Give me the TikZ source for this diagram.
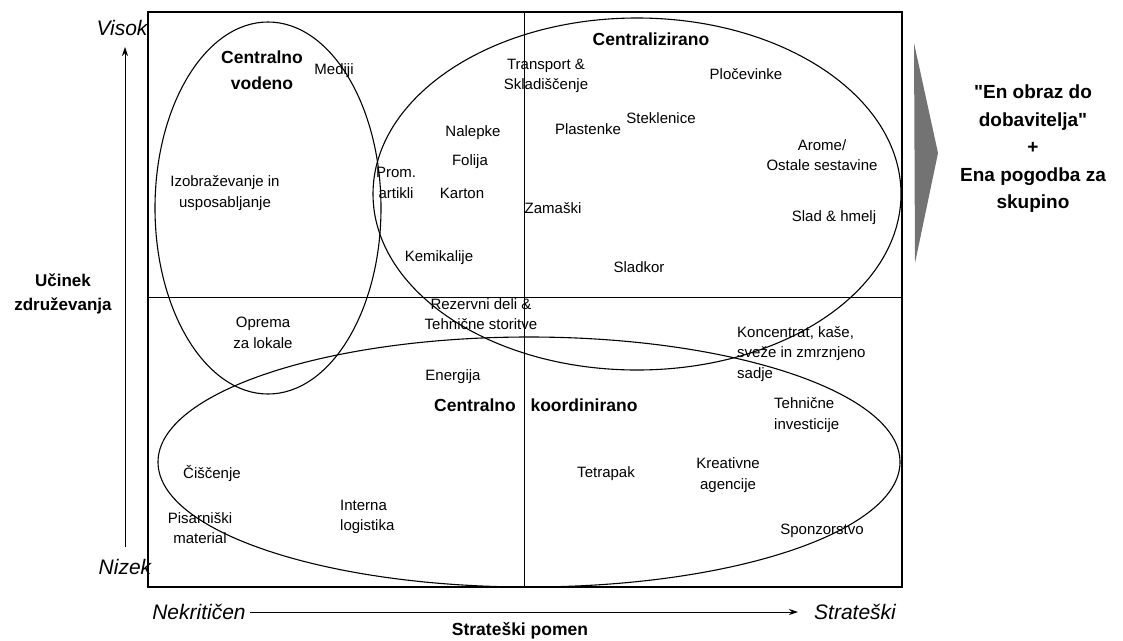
\documentclass[tikz,border=0pt]{standalone}
\usepackage{fontspec}
\setmainfont{Liberation Sans}[Ligatures=TeXOff]
\usetikzlibrary{arrows.meta}
\begin{document}
\begin{tikzpicture}[x=1pt,y=-1pt,
  lbl/.style={font=\fontsize{15}{20.5}\selectfont, align=center, inner sep=0pt},
  lbll/.style={lbl, align=left, anchor=west},
  bld/.style={font=\bfseries\fontsize{17.5}{26}\selectfont, align=center, inner sep=0pt},
  axl/.style={font=\itshape\fontsize{21}{24}\selectfont, inner sep=0pt},
  ell/.style={draw=black, line width=1.1pt},
  frame/.style={draw=black, line width=1.3pt},
  axis/.style={draw=black, line width=0.9pt, -{Stealth[length=9pt,width=6pt]}}]
\useasboundingbox (0,0) rectangle (1123,640);
% frame and quadrants
\draw[frame] (148,12) rectangle (902,587);
\draw[line width=1pt] (148,297) -- (902,297);
\draw[line width=1pt] (524,12) -- (524,587);
% ellipses
\draw[ell] (268,208) ellipse [x radius=113, y radius=186];
\draw[ell] (637,194) ellipse [x radius=264, y radius=176];
\draw[ell] (529,462) ellipse [x radius=371, y radius=125];
% axes
\coordinate (ya) at (125,547);
\coordinate (yb) at (125,47);
\draw[axis] (ya) -- (yb);
\node[axl] (visok) at (122,28) {Visok};
\node[axl] (nizek) at (125,567) {Nizek};
\node[axl] (nek) at (199,612) {Nekritičen};
\node[axl] (strat) at (855,612) {Strateški};
\coordinate (xa) at (250,612);
\coordinate (xb) at (798,612);
\draw[axis] (xa) -- (xb);
\node[bld] (pomen) at (520,631) {Strateški pomen};
\node[bld, font=\bfseries\fontsize{17}{24}\selectfont] (ucinek) at (63,294) {Učinek\\združevanja};
% group titles
\node[bld] (cv) at (262,70) {Centralno\\vodeno};
\node[bld] (cz) at (651,39) {Centralizirano};
\node[bld] (ck1) at (475,405) {Centralno};
\node[bld] (ck2) at (584,405) {koordinirano};
% items top-left
\node[lbl] (medij) at (334,71) {Mediji};
\node[lbl] (izo) at (225,193) {Izobraževanje in\\usposabljanje};
\node[lbl] (prom) at (396,183) {Prom.\\artikli};
\node[lbl] (nal) at (473,133) {Nalepke};
\node[lbl] (fol) at (470,162) {Folija};
\node[lbl] (kar) at (462,193) {Karton};
\node[lbl] (kem) at (439,258) {Kemikalije};
% items top-right
\node[lbl] (trans) at (546,76) {Transport \&\\Skladiščenje};
\node[lbl] (plas) at (588,129) {Plastenke};
\node[lbl] (stek) at (661,118) {Steklenice};
\node[lbl] (zam) at (553,208) {Zamaški};
\node[lbl] (slad) at (639,267) {Sladkor};
\node[lbl] (ploc) at (746,74) {Pločevinke};
\node[lbl] (arome) at (822,155) {Arome/\\Ostale sestavine};
\node[lbl] (hmelj) at (834,218) {Slad \& hmelj};
% items bottom-left
\node[lbl] (rez) at (481,314) {Rezervni deli \&\\Tehnične storitve};
\node[lbl] (opr) at (263,333) {Oprema\\za lokale};
\node[lbl] (ener) at (453,377) {Energija};
\node[lbl] (cisc) at (212,473) {Čiščenje};
\node[lbl] (pis) at (200,528) {Pisarniški\\material};
\node[lbll] (int) at (340,517) {Interna\\logistika};
% items bottom-right
\node[lbll] (konc) at (737,354) {Koncentrat, kaše,\\sveže in zmrznjeno\\sadje};
\node[lbll] (tehinv) at (774,415) {Tehnične\\investicije};
\node[lbl] (tetra) at (606,474) {Tetrapak};
\node[lbl] (kreat) at (728,475) {Kreativne\\agencije};
\node[lbl] (spon) at (822,531) {Sponzorstvo};
% right chevron and conclusion
\fill[black!55] (914,43) -- (938,153) -- (915,263) -- cycle;
\node[bld, font=\bfseries\fontsize{19}{27.5}\selectfont] (concl) at (1033,149) {"En obraz do\\dobavitelja"\\+\\Ena pogodba za\\skupino};
\end{tikzpicture}
\end{document}
